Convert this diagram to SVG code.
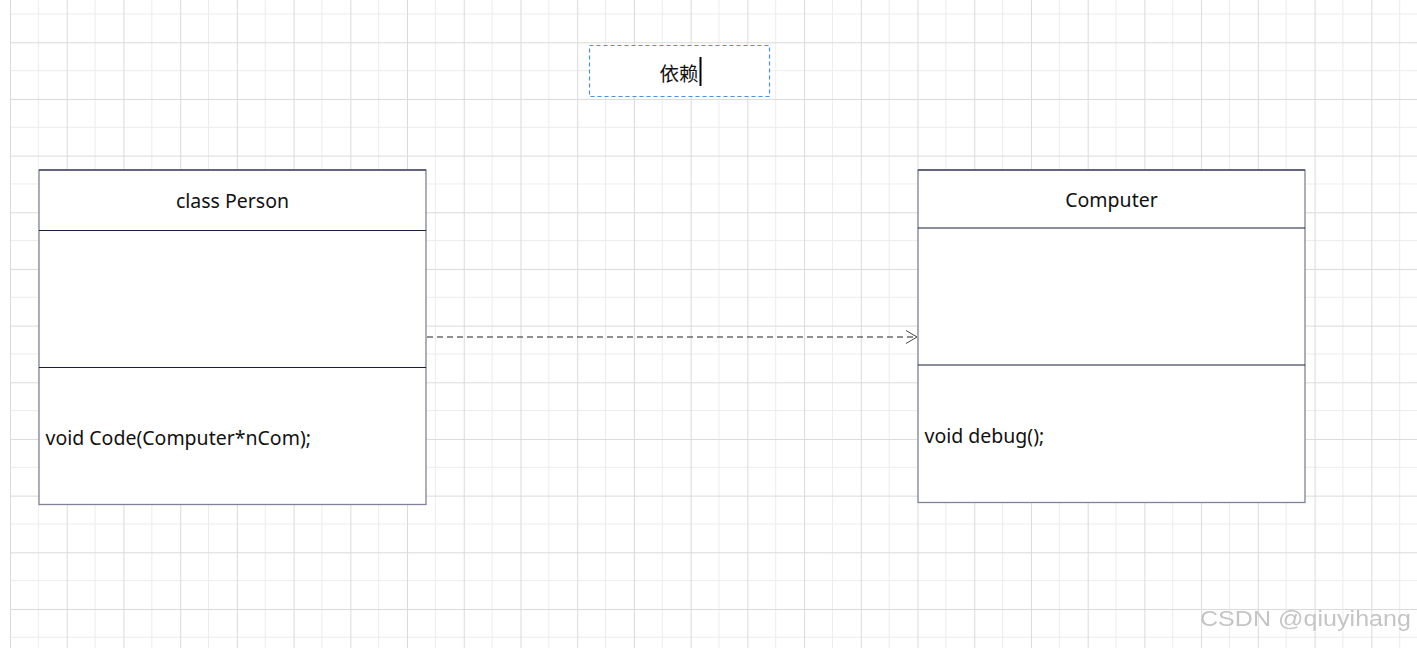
<svg xmlns="http://www.w3.org/2000/svg" width="1417" height="648" viewBox="0 0 1417 648">
  <defs>
    <pattern id="grid" patternUnits="userSpaceOnUse" x="10" y="-14.4" width="56.72" height="56.67">
      <path d="M28.36 0V56.67M0 28.33H56.72" stroke="#ececec" stroke-width="1" fill="none"/>
      <path d="M0.5 0V56.67M0 0.5H56.72" stroke="#dadada" stroke-width="1" fill="none"/>
    </pattern>
    <marker id="open" markerWidth="14" markerHeight="16" refX="12" refY="7" orient="auto" markerUnits="userSpaceOnUse">
      <path d="M1 0.5L12 7L1 13.5" fill="none" stroke="#444" stroke-width="1"/>
    </marker>
    <filter id="emb" x="-5%" y="-20%" width="110%" height="140%">
      <feOffset dx="1" dy="1" in="SourceAlpha" result="o"/>
      <feFlood flood-color="#ffffff"/>
      <feComposite in2="o" operator="in" result="s"/>
      <feMerge><feMergeNode in="s"/><feMergeNode in="SourceGraphic"/></feMerge>
    </filter>
  </defs>
  <style>
    .box{fill:#ffffff;stroke:#80829a;stroke-width:1.3}
    .div{stroke:#1c1c42;stroke-width:1.2}
    .t{font-family:"Noto Sans","Noto Sans CJK SC",sans-serif;font-size:19.5px;fill:#111}
    .h{text-anchor:middle}
  </style>
  <rect width="1417" height="648" fill="#ffffff"/>
  <rect x="10" y="0" width="1407" height="648" fill="url(#grid)"/>

  <g id="connectors">
    <path d="M427 337H917" stroke="#222" stroke-width="1.2" stroke-dasharray="6 4" fill="none" marker-end="url(#open)"/>
  </g>

  <g id="label-dependency">
    <rect x="589.5" y="45.5" width="180" height="51" fill="#ffffff" stroke="#4a8fe0" stroke-width="1.2" stroke-dasharray="4 3"/>
    <text class="t h" x="679" y="81">依赖</text>
    <rect x="699.5" y="57" width="2" height="29" fill="#000"/>
  </g>

  <g id="person">
    <rect class="box" x="39" y="170" width="387" height="334.5"/>
    <line class="div" x1="39" y1="170" x2="426" y2="170"/>
    <line class="div" x1="39" y1="230.5" x2="426" y2="230.5"/>
    <line class="div" x1="39" y1="367.5" x2="426" y2="367.5"/>
    <text class="t h" x="232.5" y="207.5">class Person</text>
    <text class="t" x="45.5" y="445">void Code(Computer*nCom);</text>
  </g>

  <g id="computer">
    <rect class="box" x="918" y="170" width="387" height="332.5"/>
    <line class="div" x1="918" y1="170" x2="1305" y2="170"/>
    <line class="div" x1="918" y1="228" x2="1305" y2="228"/>
    <line class="div" x1="918" y1="365" x2="1305" y2="365"/>
    <text class="t h" x="1111.5" y="206.5">Computer</text>
    <text class="t" x="924.5" y="443">void debug();</text>
  </g>

  <text x="1200" y="626" filter="url(#emb)" textLength="211" lengthAdjust="spacingAndGlyphs" style="font-family:'Liberation Sans',Arial,sans-serif;font-size:22px;fill:#c4c4c4">CSDN @qiuyihang</text>
</svg>
